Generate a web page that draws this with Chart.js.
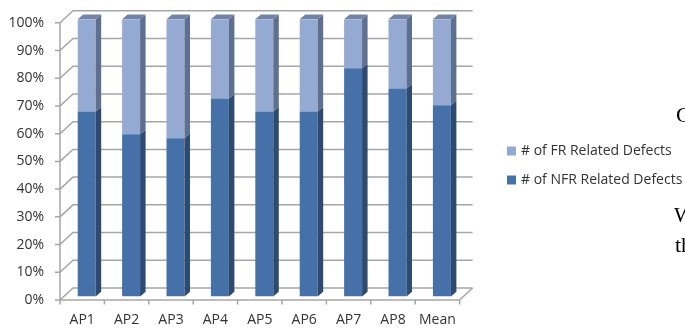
<!DOCTYPE html>
<html>
<head>
<meta charset="utf-8">
<script src="https://cdn.jsdelivr.net/npm/chart.js@4/dist/chart.umd.min.js"></script>
<style>
  html, body { margin: 0; padding: 0; background: #ffffff; }
  #wrap { width: 685px; height: 329px; }
</style>
</head>
<body>
<div id="wrap"><canvas id="c" width="685" height="329"></canvas></div>
<script>
// Share of defects per application (percent of all defects)
const categories = ['AP1', 'AP2', 'AP3', 'AP4', 'AP5', 'AP6', 'AP7', 'AP8', 'Mean'];
const nfrShare = [66.7, 58.5, 57.1, 71.4, 66.7, 66.7, 82.3, 75.0, 69.0];
const frShare  = [33.3, 41.5, 42.9, 28.6, 33.3, 33.3, 17.7, 25.0, 31.0];
const seriesNames = ['# of FR Related Defects', '# of NFR Related Defects'];
const yTickValues = [0, 10, 20, 30, 40, 50, 60, 70, 80, 90, 100];

// Colours for the pseudo-3D columns
const NFR = { front: '#4571a8', side: '#2e4a70', top: '#3d6496' };
const FR  = { front: '#95aad3', side: '#5f6f8f', top: '#7383a5' };
const GRID = '#a6a6a6';

// Geometry of the pseudo-3D frame, relative to the plane of the column faces
const BAR_DEPTH = { dx: 5.5, dy: -4.7 };
const FRONT = { dx: -4.5, dy: 3.5 };   // front edge of floor / left wall
const WALL  = { dx: 13, dy: -12 };     // front edge -> back wall

const frame3d = {
  id: 'frame3d',
  beforeDatasetsDraw(chart) {
    const { ctx, chartArea: ca, scales: { y } } = chart;
    const fl = ca.left + FRONT.dx, fr = ca.right + FRONT.dx;
    ctx.save();
    ctx.strokeStyle = GRID;
    ctx.lineWidth = 1.5;
    ctx.beginPath();
    yTickValues.forEach(v => {
      const fy = y.getPixelForValue(v) + FRONT.dy;
      ctx.moveTo(fl - 5, fy); ctx.lineTo(fl, fy);                       // tick
      ctx.moveTo(fl, fy); ctx.lineTo(fl + WALL.dx, fy + WALL.dy);        // side wall
      ctx.lineTo(fr + WALL.dx, fy + WALL.dy);                            // back wall
    });
    const f0 = y.getPixelForValue(0) + FRONT.dy;
    const f100 = y.getPixelForValue(100) + FRONT.dy;
    ctx.moveTo(fl, f100); ctx.lineTo(fl, f0);                            // value axis
    ctx.lineTo(fr, f0); ctx.lineTo(fr + WALL.dx, f0 + WALL.dy);           // floor
    const band = (ca.right - ca.left) / categories.length;
    for (let k = 0; k <= categories.length; k++) {
      const tx = fl + k * band;
      ctx.moveTo(tx, f0); ctx.lineTo(tx, f0 + 4.5);
    }
    ctx.stroke();
    ctx.restore();
  },
  afterDatasetsDraw(chart) {
    const { ctx } = chart;
    const palettes = [NFR, FR];
    ctx.save();
    chart.data.datasets.forEach((ds, di) => {
      const meta = chart.getDatasetMeta(di);
      const pal = palettes[di];
      meta.data.forEach(bar => {
        const p = bar.getProps(['x', 'y', 'base', 'width'], true);
        const left = p.x - p.width / 2, right = p.x + p.width / 2;
        const top = Math.min(p.y, p.base), bot = Math.max(p.y, p.base);
        // side face
        ctx.fillStyle = pal.side;
        ctx.beginPath();
        ctx.moveTo(right, top);
        ctx.lineTo(right + BAR_DEPTH.dx, top + BAR_DEPTH.dy);
        ctx.lineTo(right + BAR_DEPTH.dx, bot + BAR_DEPTH.dy);
        ctx.lineTo(right, bot);
        ctx.closePath();
        ctx.fill();
        // top face of the upper segment
        if (di === chart.data.datasets.length - 1) {
          ctx.fillStyle = pal.top;
          ctx.beginPath();
          ctx.moveTo(left, top);
          ctx.lineTo(left + BAR_DEPTH.dx, top + BAR_DEPTH.dy);
          ctx.lineTo(right + BAR_DEPTH.dx, top + BAR_DEPTH.dy);
          ctx.lineTo(right, top);
          ctx.closePath();
          ctx.fill();
        }
      });
    });
    ctx.restore();
  },
  afterDraw(chart) {
    const { ctx } = chart;
    ctx.save();
    // legend
    const items = [
      { label: seriesNames[0], color: FR.front, y: 151 },
      { label: seriesNames[1], color: NFR.front, y: 180 }
    ];
    ctx.font = "14px 'Open Sans'";
    ctx.textBaseline = 'middle';
    ctx.textAlign = 'left';
    items.forEach(it => {
      ctx.fillStyle = it.color;
      ctx.fillRect(507, it.y - 4.5, 9, 9);
      ctx.fillStyle = '#333333';
      ctx.fillText(it.label, 521, it.y + 0.5);
    });
    // surrounding page text at the right edge
    ctx.fillStyle = '#000000';
    ctx.font = "22px 'Liberation Serif'";
    ctx.textBaseline = 'alphabetic';
    ctx.fillText('C', 676, 122);
    ctx.fillText('W', 674, 222);
    ctx.fillText('th', 675, 252);
    ctx.restore();
  }
};

Chart.defaults.font.family = "'Open Sans'";
Chart.defaults.color = '#333333';

new Chart(document.getElementById('c'), {
  type: 'bar',
  data: {
    labels: categories,
    datasets: [
      { label: seriesNames[1], data: nfrShare, backgroundColor: NFR.front,
        categoryPercentage: 1, barPercentage: 0.405 },
      { label: seriesNames[0], data: frShare, backgroundColor: FR.front,
        categoryPercentage: 1, barPercentage: 0.405 }
    ]
  },
  options: {
    responsive: false,
    animation: false,
    devicePixelRatio: 1,
    layout: { padding: { left: 0, right: 220.9, top: 19.3, bottom: 0 } },
    plugins: { legend: { display: false }, tooltip: { enabled: false } },
    scales: {
      x: {
        stacked: true,
        grid: { display: false, drawTicks: false },
        border: { display: false },
        ticks: { font: { size: 14 }, padding: 15, labelOffset: -4.5, maxRotation: 0 },
        afterFit(scale) {
          scale.height = 329 - 296.5;
          scale.paddingLeft = 0; scale.paddingRight = 0;
        }
      },
      y: {
        stacked: true,
        min: 0, max: 100,
        afterBuildTicks(scale) { scale.ticks = yTickValues.map(v => ({ value: v })); },
        grid: { display: false, drawTicks: false },
        border: { display: false },
        ticks: { font: { size: 14 }, padding: 20.5, labelOffset: 3.5,
                 callback: v => v + '%' },
        afterFit(scale) {
          scale.width = 64.5;
          scale.paddingTop = 0; scale.paddingBottom = 0;
        }
      }
    }
  },
  plugins: [frame3d]
});
</script>
</body>
</html>
